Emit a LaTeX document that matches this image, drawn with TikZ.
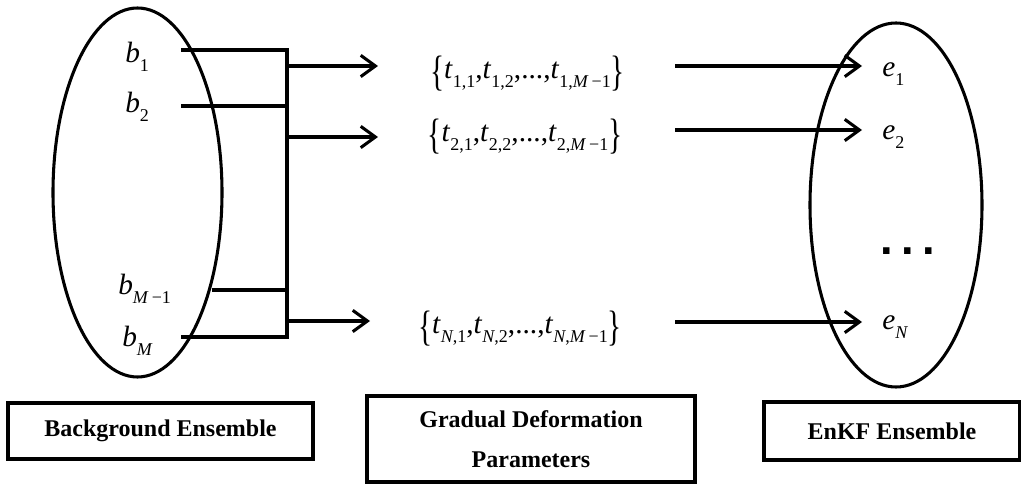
\documentclass[tikz,border=0pt]{standalone}
\usepackage{fontspec}
\setmainfont{Liberation Serif}
\newfontfamily\dotfont{Liberation Sans}
\usepackage{graphicx}
\usetikzlibrary{shapes.geometric,arrows.meta}
\newcommand\vsub[2]{\textit{#1}\raisebox{-0.3em}{\fontsize{13.5}{13.5}\selectfont #2}}
\newcommand\mybrl{\raisebox{-0.22em}{\scalebox{1}[1.45]{\{}}}
\newcommand\mybrr{\raisebox{-0.22em}{\scalebox{1}[1.45]{\}}}}
\newcommand\mm{\textit{M}\,−1}
\begin{document}
\begin{tikzpicture}[x=0.75pt,y=-0.75pt,
  ens/.style={draw, ellipse, inner sep=0pt, line width=2.3pt},
  lbl/.style={font=\fontsize{22}{22}\selectfont, inner sep=0pt, anchor=base west},
  setl/.style={font=\fontsize{22}{22}\selectfont, inner sep=0pt, anchor=base},
  capbox/.style={draw, line width=2.3pt, font=\bfseries\fontsize{18}{30}\selectfont, align=center, inner sep=0pt},
  wire/.style={line width=2.3pt},
  arr/.style={line width=2.3pt, -{Straight Barb[length=11pt,width=16pt]}}]
\useasboundingbox (0,0) rectangle (1021,484);
% ellipses
\node[ens, minimum width=126.75pt, minimum height=276.75pt] (bg) at (137.5,192.5) {};
\node[ens, minimum width=129pt, minimum height=273pt] (enkf) at (896,205) {};
% b labels
\node[lbl] (b1) at (125,63) {\vsub{b}{1}};
\node[lbl] (b2) at (125,113) {\vsub{b}{2}};
\node[lbl] (bm1) at (118,295) {\vsub{b}{\mm}};
\node[lbl] (bm) at (122,347) {\vsub{b}{\textit{M}}};
% e labels
\node[lbl] (e1) at (882,77) {\vsub{e}{1}};
\node[lbl] (e2) at (882,140) {\vsub{e}{2}};
\node[lbl] (eN) at (882,330) {\vsub{e}{\textit{N}}};
\node[font=\dotfont\bfseries\fontsize{34}{34}\selectfont, inner sep=0pt] (dots) at (907.5,251.5) {.\hspace{6.3pt}.\hspace{6.3pt}.};
% sets
\node[setl] (s1) at (527.5,79) {\mybrl\vsub{t}{1,1},\vsub{t}{1,2},...,\vsub{t}{1,\mm}\mybrr};
\node[setl] (s2) at (525,142) {\mybrl\vsub{t}{2,1},\vsub{t}{2,2},...,\vsub{t}{2,\mm}\mybrr};
\node[setl] (sN) at (520,334) {\mybrl\vsub{t}{\textit{N},1},\vsub{t}{\textit{N},2},...,\vsub{t}{\textit{N},\mm}\mybrr};
% wires
\coordinate (w1) at (181,50);
\coordinate (w2) at (181,106);
\coordinate (w3) at (212,290);
\coordinate (w4) at (181,337);
\coordinate (j1) at (287,50);
\coordinate (j2) at (287,106);
\coordinate (j3) at (287,290);
\coordinate (j4) at (287,337);
\draw[wire] (w1) -- (j1) -- (j4) -- (w4);
\draw[wire] (w2) -- (j2);
\draw[wire] (w3) -- (j3);
% arrows to sets
\coordinate (a1) at (287,66);
\coordinate (a2) at (287,137);
\coordinate (a3) at (287,321);
\coordinate (a1e) at (378,66);
\coordinate (a2e) at (378,137);
\coordinate (a3e) at (370,321);
\draw[arr] (a1) -- (a1e);
\draw[arr] (a2) -- (a2e);
\draw[arr] (a3) -- (a3e);
% arrows to e
\coordinate (r1) at (675,66);
\coordinate (r2) at (675,130);
\coordinate (r3) at (675,322);
\coordinate (r1e) at (862,66);
\coordinate (r2e) at (862,130);
\coordinate (r3e) at (862,322);
\draw[arr] (r1) -- (r1e);
\draw[arr] (r2) -- (r2e);
\draw[arr] (r3) -- (r3e);
% caption boxes
\node[capbox, minimum width=228.75pt, minimum height=42pt] (cap1) at (160.5,431) {Background Ensemble};
\node[capbox, minimum width=246pt, minimum height=64.5pt] (cap2) at (531,439) {Gradual Deformation\\Parameters};
\node[capbox, minimum width=192pt, minimum height=43.5pt] (cap3) at (892,431) {EnKF Ensemble};
\end{tikzpicture}
\end{document}
